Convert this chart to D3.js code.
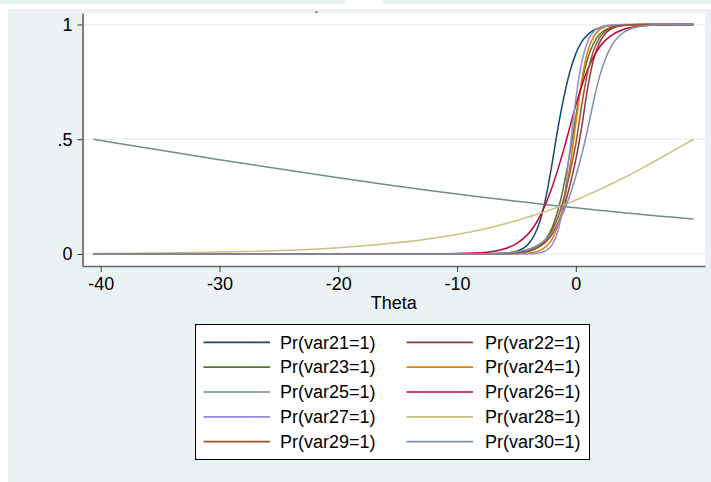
<!DOCTYPE html>
<html><head><meta charset="utf-8">
<script src="https://cdn.jsdelivr.net/npm/d3@7"></script>
<style>
html,body{margin:0;padding:0;background:#fff;}
svg{display:block;font-family:"Liberation Sans",Arial,sans-serif;}
</style></head>
<body>
<svg id="chart" width="711" height="482"></svg>
<script>
// ---- data ----
const theta = [-40.6,-30,-20,-12,-8,-6,-5,-4,-3.5,-3,-2.5,-2,-1.5,-1,-0.5,0,0.5,1,1.5,2,2.5,3,4,5,6,8,9.9];
const seriesNames = ["Pr(var21=1)","Pr(var22=1)","Pr(var23=1)","Pr(var24=1)","Pr(var25=1)","Pr(var26=1)","Pr(var27=1)","Pr(var28=1)","Pr(var29=1)","Pr(var30=1)"];
const var21 = [0,0,0,0,0.0002,0.0032,0.0119,0.0436,0.0816,0.147,0.252,0.395,0.552,0.686,0.795,0.873,0.925,0.956,0.975,0.986,0.992,0.9954,0.9985,0.9995,0.9998,1,1];
const var22 = [0,0,0,0,0.0002,0.0017,0.0047,0.0127,0.0208,0.0339,0.0547,0.087,0.136,0.206,0.299,0.413,0.556,0.726,0.849,0.922,0.962,0.9815,0.9958,0.9991,0.9998,1,1];
const var23 = [0,0,0,0,0.0001,0.0011,0.0035,0.0117,0.021,0.0377,0.0666,0.115,0.192,0.302,0.44,0.6,0.746,0.853,0.919,0.957,0.978,0.9885,0.997,0.9992,0.9998,1,1];
const var24 = [0,0,0,0,0,0.0002,0.0009,0.0038,0.0079,0.016,0.0326,0.0648,0.126,0.228,0.38,0.57,0.76,0.884,0.948,0.978,0.9906,0.996,0.9993,0.9998,1,1,1];
const var25 = [0.5,0.411,0.332,0.274,0.248,0.236,0.23,0.224,0.221,0.218,0.215,0.212,0.209,0.207,0.204,0.201,0.198,0.196,0.193,0.19,0.188,0.185,0.18,0.175,0.17,0.161,0.152];
const var26 = [0,0,0,0.0003,0.0054,0.0225,0.0452,0.0887,0.122,0.167,0.223,0.292,0.371,0.459,0.554,0.649,0.734,0.805,0.86,0.902,0.932,0.953,0.978,0.99,0.9956,0.999,0.9998];
const var27 = [0,0,0,0,0,0,0.0001,0.0008,0.0021,0.0056,0.0151,0.04,0.102,0.235,0.455,0.677,0.837,0.927,0.969,0.987,0.9947,0.9978,0.9996,1,1,1,1];
const var28 = [0.0024,0.0086,0.0277,0.0687,0.106,0.131,0.146,0.161,0.169,0.177,0.186,0.195,0.205,0.215,0.225,0.235,0.246,0.258,0.269,0.281,0.293,0.306,0.331,0.358,0.386,0.444,0.5];
const var29 = [0,0,0,0,0.0002,0.0017,0.0049,0.0138,0.023,0.0384,0.063,0.102,0.161,0.246,0.355,0.482,0.651,0.794,0.888,0.943,0.971,0.986,0.9967,0.9992,0.9998,1,1];
const var30 = [0,0,0,0,0.0009,0.0042,0.0094,0.0206,0.0305,0.0448,0.0654,0.0944,0.135,0.188,0.257,0.34,0.434,0.545,0.669,0.774,0.852,0.907,0.965,0.9876,0.9956,0.9995,1];
const yTickValues = [0, 0.5, 1];
const yTickLabels = ["0", ".5", "1"];
const xTickValues = [-40, -30, -20, -10, 0];
const xTickLabels = ["-40", "-30", "-20", "-10", "0"];
const xTitle = "Theta";

const seriesValues = [var21,var22,var23,var24,var25,var26,var27,var28,var29,var30];
const colors = ["#1a476f","#90353b","#55752f","#e37e00","#6e8e84","#c10534","#938dd2","#cac27e","#a0522d","#7b92a8"];

// ---- layout ----
const svg = d3.select("#chart");
const bg = "#eaf2f3";
const plot = {left: 82.5, right: 705, top: 13, bottom: 266};
const fs = "18px";

// top strip remnants
svg.append("rect").attr("x",0).attr("y",0).attr("width",345).attr("height",4).attr("fill",bg);
svg.append("rect").attr("x",383).attr("y",0).attr("width",328).attr("height",4).attr("fill",bg);
// graph region
svg.append("rect").attr("x",8).attr("y",9).attr("width",703).attr("height",473).attr("fill",bg);
// plot region
svg.append("rect").attr("x",plot.left).attr("y",plot.top).attr("width",plot.right-plot.left).attr("height",plot.bottom-plot.top).attr("fill","#fff");
// small title remnant mark
svg.append("rect").attr("x",315.5).attr("y",11.5).attr("width",2).attr("height",1.5).attr("fill","#555");

const x = d3.scaleLinear().domain([-41.53, 10.87]).range([plot.left, plot.right]);
const y = d3.scaleLinear().domain([-0.0523, 1.0501]).range([plot.bottom, plot.top]);

// grid lines
svg.append("g").selectAll("line").data(yTickValues).join("line")
  .attr("x1",plot.left).attr("x2",plot.right)
  .attr("y1",d=>y(d)).attr("y2",d=>y(d))
  .attr("stroke",bg).attr("stroke-width",1.5);

// curves
const line = d3.line().x(d=>x(d[0])).y(d=>y(d[1])).curve(d3.curveMonotoneX);
const g = svg.append("g");
seriesValues.forEach((vals,i)=>{
  g.append("path").datum(theta.map((t,j)=>[t, vals[j]]))
    .attr("d", line).attr("fill","none").attr("stroke",colors[i])
    .attr("stroke-width",1.5).attr("stroke-linejoin","round");
});

// axes
const yAxis = d3.axisLeft(y).tickValues(yTickValues).tickFormat((d,i)=>yTickLabels[i]).tickSize(5).tickSizeOuter(0).tickPadding(5);
const ya = svg.append("g").attr("transform",`translate(${plot.left},0)`).call(yAxis);
ya.select(".domain").attr("stroke","#000").attr("stroke-width",1);
ya.selectAll(".tick line").attr("stroke","#333");
ya.selectAll(".tick text").attr("font-size",fs).attr("fill","#000").attr("font-family","Liberation Sans, Arial, sans-serif");

const xAxis = d3.axisBottom(x).tickValues(xTickValues).tickFormat((d,i)=>xTickLabels[i]).tickSize(6).tickSizeOuter(0).tickPadding(5);
const xa = svg.append("g").attr("transform",`translate(0,${plot.bottom})`).call(xAxis);
xa.select(".domain").attr("stroke","#666").attr("stroke-width",1.5);
xa.selectAll(".tick line").attr("stroke","#444");
xa.selectAll(".tick text").attr("font-size",fs).attr("fill","#000").attr("font-family","Liberation Sans, Arial, sans-serif");

svg.append("text").attr("x",(plot.left+plot.right)/2).attr("y",309)
  .attr("text-anchor","middle").attr("font-size",fs).attr("fill","#000").text(xTitle);

// legend
const lg = svg.append("g");
lg.append("rect").attr("x",195.5).attr("y",324.5).attr("width",394).attr("height",135)
  .attr("fill","#fff").attr("stroke","#000").attr("stroke-width",1);
const rowY = i => 342.3 + i*24.85;
seriesNames.forEach((name,i)=>{
  const col = i % 2, row = Math.floor(i/2);
  const lx = col === 0 ? 203.5 : 406.5;
  const tx = col === 0 ? 280 : 485;
  lg.append("line").attr("x1",lx).attr("x2",lx+66.5).attr("y1",rowY(row)).attr("y2",rowY(row))
    .attr("stroke",colors[i]).attr("stroke-width",1.7);
  lg.append("text").attr("x",tx).attr("y",rowY(row)+6.3).attr("font-size",fs).attr("fill","#000").text(name);
});
</script>
</body></html>
